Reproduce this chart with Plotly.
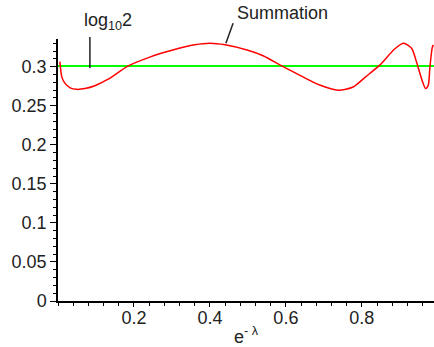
import plotly.graph_objects as go
import math

# Summation curve
x_sum = [0.005, 0.010, 0.018, 0.032, 0.049, 0.071, 0.097, 0.132, 0.185, 0.24, 0.30,
         0.36, 0.40, 0.44, 0.50, 0.54, 0.589, 0.637, 0.689, 0.738, 0.777,
         0.81, 0.847, 0.887, 0.91, 0.931, 0.944, 0.957, 0.968, 0.975, 0.979, 0.985, 0.988]
y_sum = [0.3065, 0.287, 0.279, 0.273, 0.271, 0.272, 0.2756, 0.284, 0.301, 0.312, 0.321,
         0.328, 0.330, 0.328, 0.321, 0.314, 0.301, 0.289, 0.2765, 0.270, 0.274,
         0.287, 0.302, 0.323, 0.330, 0.3236, 0.306, 0.285, 0.272, 0.2765, 0.298, 0.3236, 0.328]

log_x = [0.0, 0.99]
log_val = math.log10(2)

x_ticks = [0.2, 0.4, 0.6, 0.8]
x_tick_text = ["0.2", "0.4", "0.6", "0.8"]
y_ticks = [0, 0.05, 0.1, 0.15, 0.2, 0.25, 0.3]
y_tick_text = ["0", "0.05", "0.1", "0.15", "0.2", "0.25", "0.3"]

FONT = "Liberation Sans"
FS = 18

fig = go.Figure()
fig.add_trace(go.Scatter(x=log_x, y=[log_val, log_val], mode="lines",
                         line=dict(color="#00ff00", width=2), hoverinfo="skip"))
fig.add_trace(go.Scatter(x=x_sum, y=y_sum, mode="lines", line_shape="spline",
                         line=dict(color="#ff0000", width=1.5, smoothing=0.7), hoverinfo="skip"))

axis_common = dict(showgrid=False, zeroline=False, showline=True, linecolor="black",
                   linewidth=1.5, ticks="outside", tickcolor="black", tickwidth=1,
                   automargin=False,
                   tickfont=dict(family=FONT, size=FS, color="#222222"))

fig.update_xaxes(range=[0, 0.99], tickmode="array", tickvals=x_ticks, ticktext=x_tick_text,
                 ticklen=4, ticklabelstandoff=-4,
                 minor=dict(tickmode="linear", tick0=0, dtick=0.04, ticklen=3,
                            ticks="outside", tickcolor="black"),
                 **axis_common)
fig.update_yaxes(range=[0, 0.3355], tickmode="array", tickvals=y_ticks, ticktext=y_tick_text,
                 ticklen=6, minor=dict(tickmode="linear", tick0=0, dtick=0.01, ticklen=3,
                                       ticks="outside", tickcolor="black"),
                 **axis_common)

fig.add_annotation(text="e<sup>- λ</sup>", xref="paper", yref="paper", x=0.5, y=0,
                   xanchor="center", yanchor="top", yshift=-21, showarrow=False,
                   font=dict(family=FONT, size=FS, color="#222222"))
fig.add_annotation(text="log<sub>10</sub>2", xref="x", yref="paper", x=0.132, y=1.0,
                   xanchor="center", yanchor="bottom", yshift=4, showarrow=False,
                   font=dict(family=FONT, size=FS, color="#222222"))
fig.add_annotation(text="Summation", xref="x", yref="paper", x=0.59, y=1.0,
                   xanchor="center", yanchor="bottom", yshift=14, showarrow=False,
                   font=dict(family=FONT, size=FS, color="#222222"))
fig.add_shape(type="line", xref="x", yref="paper", x0=0.084, x1=0.084, y0=0.889, y1=1.0076,
              line=dict(color="#222222", width=1.5))
fig.add_shape(type="line", xref="x", yref="paper", x0=0.461, x1=0.442, y0=1.060, y1=0.9836,
              line=dict(color="#222222", width=1.5))

fig.update_layout(width=434, height=347, margin=dict(l=58, r=0, t=39, b=46, pad=0),
                  plot_bgcolor="white", paper_bgcolor="white", showlegend=False)
fig.write_html("out.html", config={"displayModeBar": False},
               post_script="document.body.style.margin='0px';")
